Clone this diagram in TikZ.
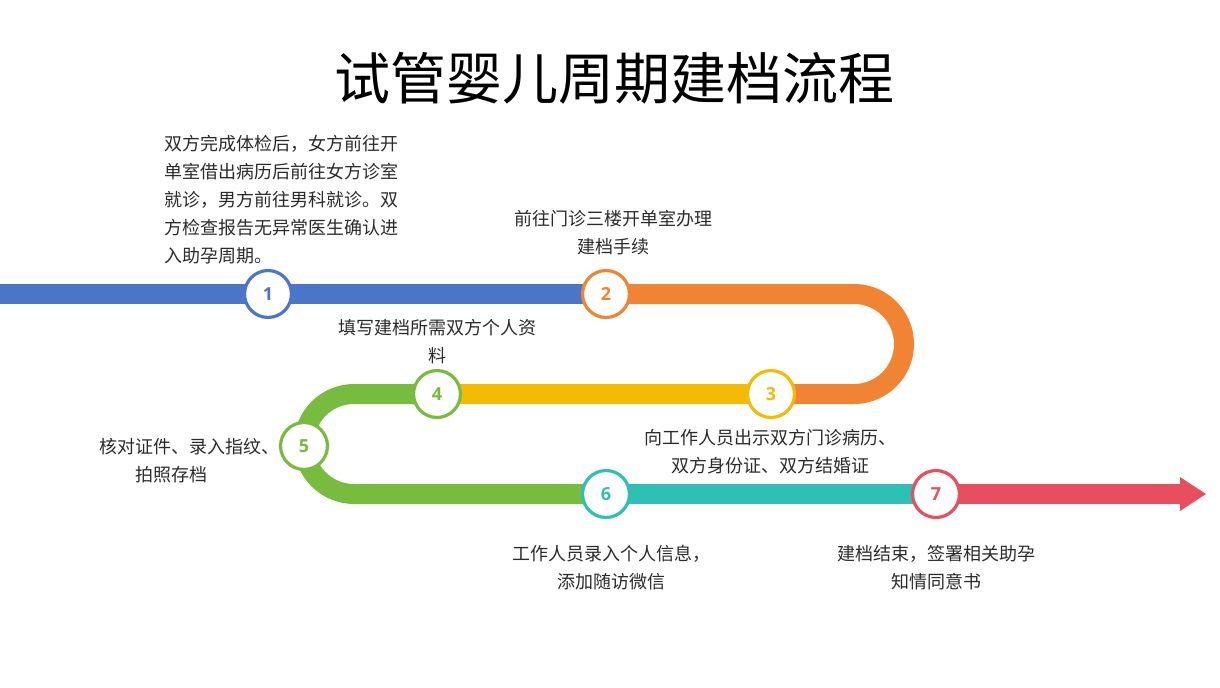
\documentclass[tikz,border=0pt]{standalone}
\usepackage{fontspec}
\setmainfont{Noto Sans CJK SC}
\newfontfamily\numfont{Open Sans}
\definecolor{cblue}{HTML}{4A76C9}
\definecolor{corange}{HTML}{F08433}
\definecolor{cyellow}{HTML}{F3BB05}
\definecolor{cgreen}{HTML}{78BC3F}
\definecolor{cteal}{HTML}{2FC0B5}
\definecolor{cred}{HTML}{E74F60}
\definecolor{ctext}{HTML}{2B2B2B}
\pgfdeclarelayer{bg}
\pgfsetlayers{bg,main}
\tikzset{
  stepcircle/.style={circle,draw=#1,line width=2.4pt,fill=white,minimum size=35.2pt,inner sep=0pt,
    text=#1,font=\numfont\bfseries\fontsize{13.5}{15}\selectfont},
  track/.style={line width=15pt,draw=#1,line cap=butt},
  desc/.style={text=ctext,font=\fontsize{13.5}{21}\selectfont,inner sep=0pt},
}
\begin{document}
\begin{tikzpicture}[x=0.75pt,y=-0.75pt]
\useasboundingbox (0,0) rectangle (1220,688);
\node[font=\fontsize{42}{50}\selectfont,text=black,inner sep=0pt] (title) at (614,78) {试管婴儿周期建档流程};

\node[stepcircle=cblue] (c1) at (268,294) {1};
\node[stepcircle=corange] (c2) at (606,294) {2};
\node[stepcircle=cyellow] (c3) at (771,394) {3};
\node[stepcircle=cgreen] (c4) at (437,394) {4};
\node[stepcircle=cgreen] (c5) at (304,446) {5};
\node[stepcircle=cteal] (c6) at (606,494) {6};
\node[stepcircle=cred] (c7) at (936,494) {7};

\coordinate (start) at (0,294);
\coordinate (end) at (1182,494);

\begin{pgfonlayer}{bg}
\draw[track=cblue] (start) -- (c1.center) -- (c2.center);
\draw[track=corange] (c2.center) -- (854,294) arc[start angle=-90,end angle=90,radius=50] -- (c3.center);
\draw[track=cyellow] (c3.center) -- (c4.center);
\draw[track=cgreen] (c4.center) -- (354,394) arc[start angle=270,end angle=90,radius=50] -- (c6.center);
\draw[track=cteal] (c6.center) -- (c7.center);
\draw[track=cred] (c7.center) -- (end);
\fill[cred] (1180,477) -- (1206,494) -- (1180,511) -- cycle;
\end{pgfonlayer}

\node[desc,anchor=west,align=left] (t1) at (164,200) {双方完成体检后，女方前往开\\单室借出病历后前往女方诊室\\就诊，男方前往男科就诊。双\\方检查报告无异常医生确认进\\入助孕周期。};
\node[desc,align=center] (t2) at (613,233) {前往门诊三楼开单室办理\\建档手续};
\node[desc,align=center] (t4) at (437,342) {填写建档所需双方个人资\\料};
\node[desc,align=center] (t5) at (189,461) {核对证件、录入指纹、\\拍照存档\hspace*{27pt}};
\node[desc,align=center] (t3) at (770,452) {向工作人员出示双方门诊病历、\\双方身份证、双方结婚证};
\node[desc,align=center] (t6) at (611,568) {工作人员录入个人信息，\\添加随访微信};
\node[desc,align=center] (t7) at (936,568) {建档结束，签署相关助孕\\知情同意书};
\end{tikzpicture}
\end{document}
